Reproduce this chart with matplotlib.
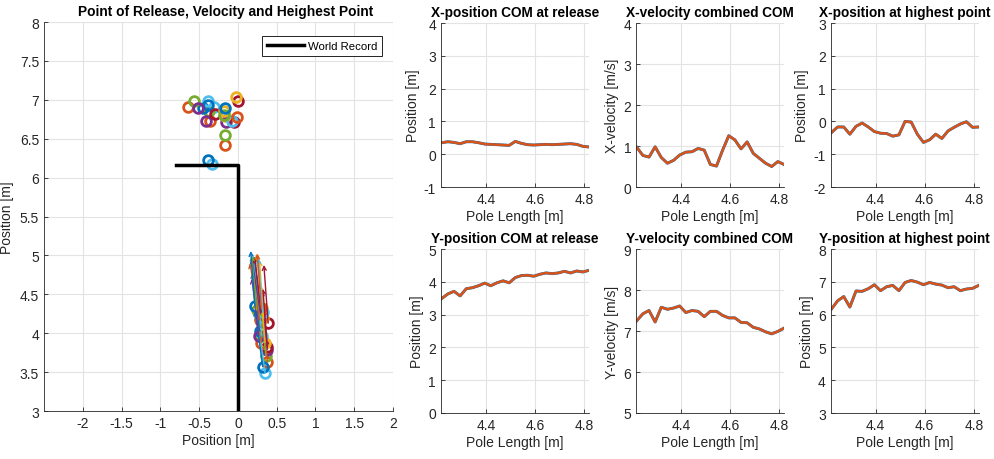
import matplotlib.pyplot as plt
import matplotlib.ticker as mticker

plt.rcParams['font.family'] = ['Liberation Sans', 'DejaVu Sans']
plt.rcParams['axes.unicode_minus'] = False

# data
pole_length = [4.220, 4.245, 4.270, 4.295, 4.320, 4.345, 4.370, 4.395, 4.420,
               4.445, 4.470, 4.495, 4.520, 4.545, 4.570, 4.595, 4.620, 4.645,
               4.670, 4.695, 4.720, 4.745, 4.770, 4.795, 4.820]
x_release = [0.35, 0.38, 0.36, 0.32, 0.38, 0.38, 0.35, 0.31, 0.30, 0.29, 0.28,
             0.27, 0.39, 0.33, 0.29, 0.28, 0.29, 0.30, 0.29, 0.30, 0.31, 0.32,
             0.30, 0.24, 0.22]
y_release = [3.49, 3.63, 3.71, 3.57, 3.79, 3.82, 3.88, 3.96, 3.88, 3.97, 4.03,
             3.97, 4.13, 4.19, 4.20, 4.17, 4.23, 4.27, 4.25, 4.27, 4.32, 4.27,
             4.33, 4.30, 4.35]
vx_release = [0.97, 0.77, 0.73, 0.98, 0.72, 0.58, 0.65, 0.78, 0.85, 0.86, 0.94,
              0.90, 0.55, 0.51, 0.90, 1.25, 1.15, 0.93, 1.10, 0.82, 0.70, 0.58,
              0.50, 0.62, 0.55]
vy_release = [7.25, 7.42, 7.50, 7.22, 7.58, 7.53, 7.56, 7.61, 7.45, 7.50, 7.48,
              7.35, 7.48, 7.48, 7.38, 7.32, 7.32, 7.21, 7.20, 7.09, 7.05, 6.98,
              6.93, 6.99, 7.07]
x_highest = [-0.34, -0.17, -0.17, -0.39, -0.15, -0.05, -0.17, -0.31, -0.36,
             -0.37, -0.45, -0.41, 0.00, -0.02, -0.39, -0.64, -0.56, -0.39,
             -0.52, -0.29, -0.18, -0.08, -0.01, -0.18, -0.17]
y_highest = [6.17, 6.42, 6.55, 6.23, 6.72, 6.71, 6.79, 6.91, 6.73, 6.85, 6.89,
             6.73, 6.98, 7.04, 6.99, 6.91, 6.98, 6.93, 6.90, 6.82, 6.85, 6.73,
             6.78, 6.80, 6.89]
world_record = 6.16
record_x = [-0.8, 0.0, 0.0]
record_y = [world_record, world_record, 3.0]

matlab_colors = ['#0072BD', '#D95319', '#EDB120', '#7E2F8E', '#77AC30',
                 '#4DBEEE', '#A2142F']
arrow_scale = 0.1
grey = '#262626'


def style_axes(ax):
    ax.grid(True, color='#e3e3e3', lw=0.8)
    ax.set_axisbelow(True)
    for side in ['top', 'right']:
        ax.spines[side].set_visible(False)
    for side in ['left', 'bottom']:
        ax.spines[side].set_color(grey)
        ax.spines[side].set_linewidth(0.6)
    ax.tick_params(direction='in', length=3, width=0.6, colors=grey,
                   labelsize=10, labelcolor=grey)


fig = plt.figure(figsize=(9.95, 4.6), dpi=100)

# left panel: trajectory summary
ax = fig.add_axes([0.0442, 0.1043, 0.3508, 0.8457])
for i in range(len(pole_length)):
    c = matlab_colors[(5 + 3 * i) % 7]
    ax.plot(x_release[i], y_release[i], 'o', mfc='none', mec=c, ms=7, mew=2)
    ax.annotate('', xy=(x_release[i] - vx_release[i] * arrow_scale,
                        y_release[i] + vy_release[i] * arrow_scale),
                xytext=(x_release[i], y_release[i]),
                arrowprops=dict(arrowstyle='->', color=c, lw=1,
                                shrinkA=0, shrinkB=0, mutation_scale=7))
    ax.plot(x_highest[i], y_highest[i], 'o', mfc='none', mec=c, ms=7, mew=2)
ax.plot(record_x, record_y, color='k', lw=2.5, label='World Record')
ax.set_xlim(-2.5, 2)
ax.set_ylim(3, 8)
ax.set_xticks([-2, -1.5, -1, -0.5, 0, 0.5, 1, 1.5, 2])
ax.set_yticks([3, 3.5, 4, 4.5, 5, 5.5, 6, 6.5, 7, 7.5, 8])
ax.xaxis.set_major_formatter(mticker.FormatStrFormatter('%g'))
ax.yaxis.set_major_formatter(mticker.FormatStrFormatter('%g'))
style_axes(ax)
ax.set_xlabel('Position [m]', fontsize=10, color=grey, labelpad=2)
ax.set_ylabel('Position [m]', fontsize=10, color=grey, labelpad=4)
ax.set_title('Point of Release, Velocity and Heighest Point', fontsize=9.9,
             fontweight='bold', pad=5, x=0.519)
leg = ax.legend(loc='upper right', bbox_to_anchor=(0.9685, 0.964),
                borderaxespad=0, fontsize=8.2, fancybox=False, framealpha=1,
                edgecolor='k', handlelength=3.2, handletextpad=0.35,
                borderpad=0.45)
leg.get_frame().set_linewidth(0.6)

# right panels: values versus pole length
panels = [
    ('X-position COM at release', 'Position [m]', x_release, (-1, 4)),
    ('X-velocity combined COM', 'X-velocity [m/s]', vx_release, (0, 4)),
    ('X-position at highest point', 'Position [m]', x_highest, (-2, 3)),
    ('Y-position COM at release', 'Position [m]', y_release, (0, 5)),
    ('Y-velocity combined COM', 'Y-velocity [m/s]', vy_release, (5, 9)),
    ('Y-position at highest point', 'Position [m]', y_highest, (3, 8)),
]
lefts = [0.4432, 0.6392, 0.8349]
bottoms = [0.5913, 0.1]
for k, (title, ylab, values, ylim) in enumerate(panels):
    ax = fig.add_axes([lefts[k % 3], bottoms[k // 3], 0.1487, 0.3565])
    ax.plot(pole_length, values, color='#0072BD', lw=2.1)
    ax.plot(pole_length, values, color='#D95319', lw=1.8)
    ax.set_xlim(pole_length[0] - 0.003, pole_length[-1])
    ax.set_ylim(*ylim)
    ax.set_xticks([4.4, 4.6, 4.8])
    ax.set_yticks(range(ylim[0], ylim[1] + 1))
    style_axes(ax)
    ax.set_xlabel('Pole Length [m]', fontsize=10, color=grey, labelpad=2)
    ax.set_ylabel(ylab, fontsize=10, color=grey, labelpad=3)
    ax.set_title(title, fontsize=9.8, fontweight='bold', pad=5)

fig.savefig('out.png', dpi=100)
